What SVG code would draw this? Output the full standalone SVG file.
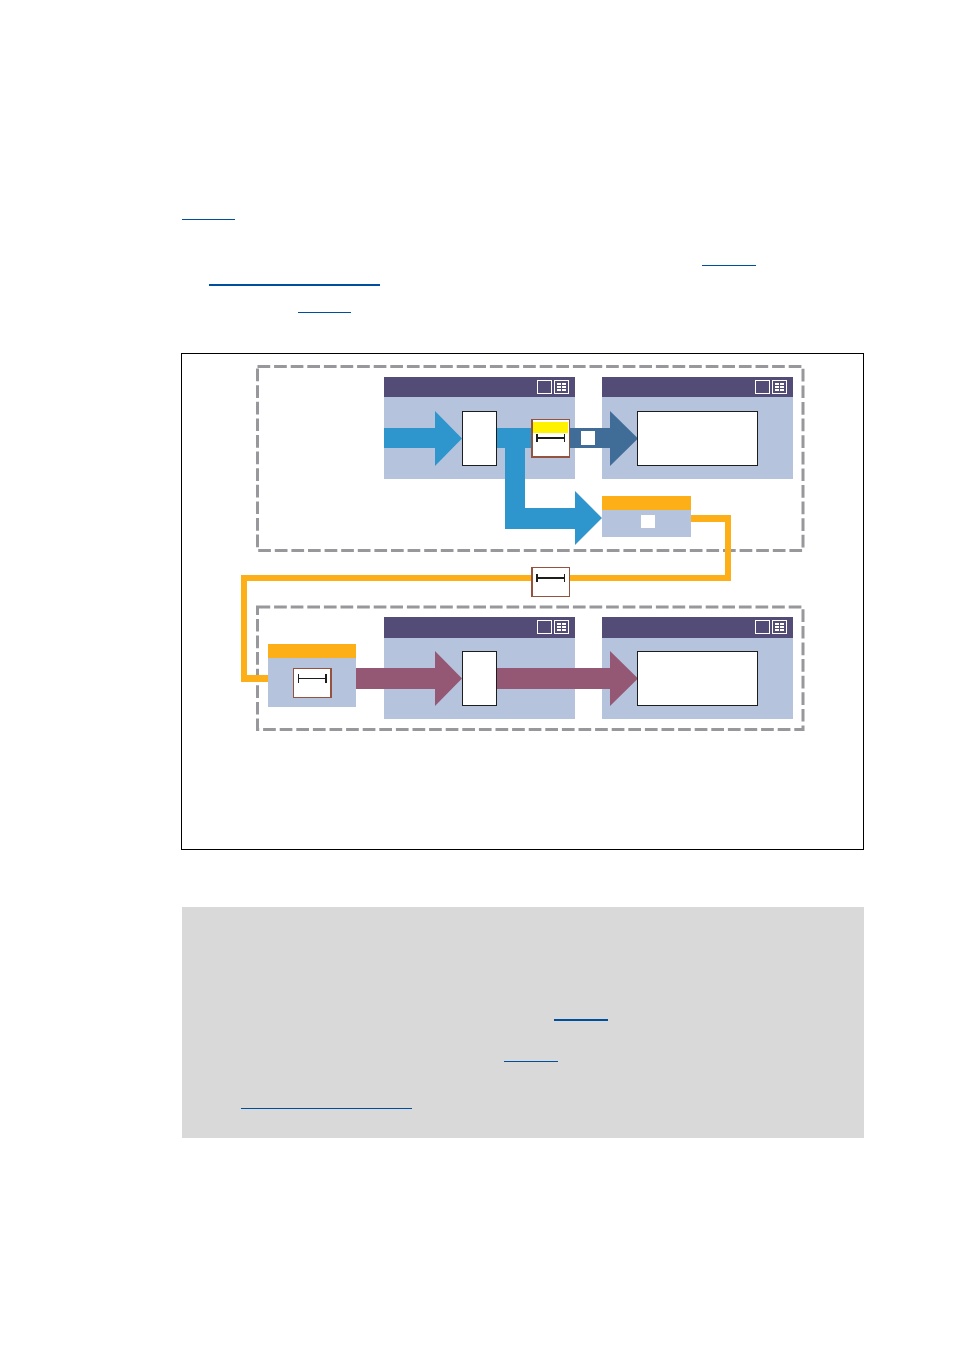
<svg xmlns="http://www.w3.org/2000/svg" width="954" height="1350" viewBox="0 0 954 1350">
<style>
.body{fill:#b6c3dd}.head{fill:#524c76}.white{fill:#fff}.box{fill:#fff;stroke:#1d1d1b;stroke-width:1}
.icon{fill:none;stroke:#fff;stroke-width:1}.dash{fill:none;stroke:#98979b;stroke-width:3;stroke-dasharray:12.7 3.9}
.orange{fill:#fdaf17}.link{fill:#004f9f}.ink{fill:#1d1d1b}.brown{fill:#95533f}
</style>
<defs>
<g id="icons">
<rect class="icon" x="0.5" y="0.5" width="14" height="13"/>
<rect class="icon" x="17.500" y="0.5" width="14" height="13"/>
<path d="M20 3h4v2h-4zM25 3h4v2h-4zM20 6h4v2h-4zM25 6h4v2h-4zM20 9h4v2h-4zM25 9h4v2h-4z" fill="#fff"/>
</g>
<g id="panel">
<rect class="body" x="0" y="0" width="191" height="102"/>
<rect class="head" x="0" y="0" width="191" height="20"/>
<use href="#icons" x="153" y="3"/>
</g>
<g id="panel-tall">
<rect class="body" x="0" y="0" width="191" height="102"/>
<rect class="head" x="0" y="0" width="191" height="21"/>
<use href="#icons" x="153" y="3"/>
</g>
<g id="dimL">
<rect class="ink" x="1" y="-1" width="28" height="2"/>
<rect class="ink" x="0" y="-4" width="2" height="8"/>
<rect class="ink" x="28" y="-4" width="1" height="8"/>
</g>
</defs>
<rect width="954" height="1350" fill="#fff"/>
<g id="links">
<rect class="link" x="182" y="219" width="53" height="1"/>
<rect class="link" x="702" y="265" width="54" height="1"/>
<rect class="link" x="209" y="284" width="171" height="2"/>
<rect class="link" x="298" y="312" width="53" height="1"/>
</g>
<rect id="frame" x="181.500" y="353.500" width="682" height="496" fill="none" stroke="#000" stroke-width="1"/>
<g id="note">
<rect x="182" y="907" width="682" height="231" fill="#d9d9d9"/>
<rect class="link" x="554" y="1019" width="54" height="2"/>
<rect class="link" x="504" y="1061" width="54" height="1"/>
<rect class="link" x="241" y="1108" width="171" height="1"/>
</g>
<g id="zone-top"><rect class="dash" x="257.500" y="366.500" width="545.500" height="184"/></g>
<g id="zone-bottom"><rect class="dash" x="257.500" y="607" width="545.500" height="122.500"/></g>
<g id="panel-a1"><use href="#panel" x="384" y="377"/></g>
<g id="panel-a2"><use href="#panel" x="602" y="377"/></g>
<g id="panel-b1"><use href="#panel-tall" x="384" y="617"/></g>
<g id="panel-b2"><use href="#panel-tall" x="602" y="617"/></g>
<g id="source-panel">
<rect class="body" x="268" y="658" width="88" height="49"/>
<rect class="orange" x="268" y="644" width="88" height="14"/>
</g>
<g id="sink-panel">
<rect class="body" x="602" y="510" width="89" height="27"/>
<rect class="orange" x="602" y="496" width="89" height="14"/>
<rect class="white" x="641" y="515" width="14" height="13"/>
</g>
<g id="connectors">
<path fill="#2e96cd" d="M384 428H435V411L462 438.500L435 466V448H384Z"/>
<path fill="#2e96cd" d="M497 428H532V448H525V508H575V491L602 518L575 545V529H505V448H497Z"/>
<path fill="#406c98" d="M570 428H610V411L638 438.500L610 466V448H570Z"/>
<rect class="white" x="581" y="431" width="14" height="14"/>
<path class="orange" d="M691 515H731V581H247V675H268V682H241V575H725V522H691Z"/>
<path fill="#945875" d="M356 668H435V651L462 678.500L435 706V689H356Z"/>
<path fill="#945875" d="M497 668H610V651L638 678.500L610 706V689H497Z"/>
</g>
<g id="block-a1"><rect class="box" x="462.500" y="411.500" width="34" height="54"/></g>
<g id="block-a2"><rect class="box" x="637.500" y="411.500" width="120" height="54"/></g>
<g id="block-b1"><rect class="box" x="462.500" y="651.500" width="34" height="54"/></g>
<g id="block-b2"><rect class="box" x="637.500" y="651.500" width="120" height="54"/></g>
<g id="scale-a">
<rect class="brown" x="531" y="419" width="39" height="39"/>
<rect class="white" x="533" y="420" width="36" height="36"/>
<rect x="533" y="422" width="35" height="11" fill="#fff200"/>
<use href="#dimL" x="536" y="438"/>
</g>
<g id="scale-b">
<rect class="brown" x="531" y="567" width="39" height="30"/>
<rect class="white" x="533" y="568" width="36" height="28"/>
<use href="#dimL" x="536" y="578"/>
</g>
<g id="scale-c">
<rect class="brown" x="293" y="668" width="39" height="30"/>
<rect class="white" x="294" y="669" width="36" height="28"/>
<rect class="ink" x="298" y="678" width="28" height="1"/>
<rect class="ink" x="298" y="674" width="1" height="9"/>
<rect class="ink" x="325" y="674" width="2" height="9"/>
</g>
</svg>
